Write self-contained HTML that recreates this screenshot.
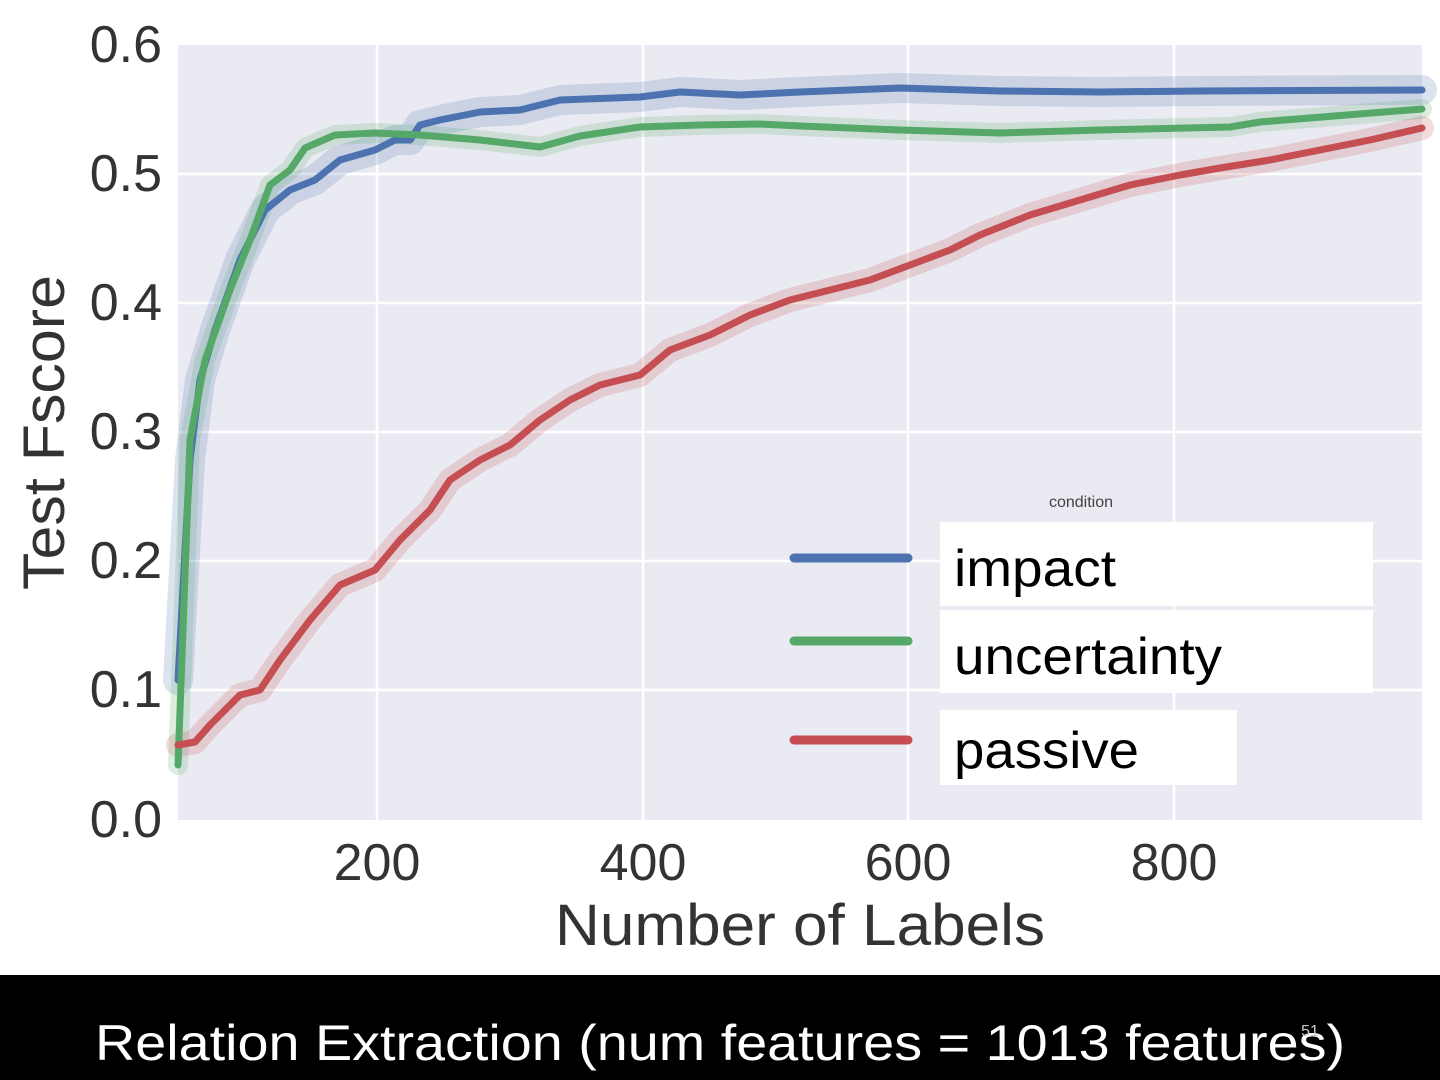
<!DOCTYPE html>
<html><head><meta charset="utf-8"><style>
html,body{margin:0;padding:0;background:#fff;}
body{width:1440px;height:1080px;overflow:hidden;position:relative;font-family:"Liberation Sans",sans-serif;}
</style></head><body>
<svg width="1440" height="1080" xmlns="http://www.w3.org/2000/svg" style="position:absolute;left:0;top:0">
<rect x="178" y="45" width="1244" height="775" fill="#eaeaf2"/>
<g stroke="#fff" stroke-width="2.5">
<line x1="377" y1="45" x2="377" y2="820"/><line x1="643" y1="45" x2="643" y2="820"/>
<line x1="908" y1="45" x2="908" y2="820"/><line x1="1174" y1="45" x2="1174" y2="820"/>
<line x1="178" y1="174" x2="1422" y2="174"/><line x1="178" y1="303" x2="1422" y2="303"/>
<line x1="178" y1="432" x2="1422" y2="432"/><line x1="178" y1="561" x2="1422" y2="561"/>
<line x1="178" y1="690" x2="1422" y2="690"/>
</g>
<g font-size="52" fill="#333" text-anchor="end">
<text x="162" y="62">0.6</text><text x="162" y="191">0.5</text><text x="162" y="320">0.4</text>
<text x="162" y="449">0.3</text><text x="162" y="578">0.2</text><text x="162" y="707">0.1</text><text x="162" y="837">0.0</text>
</g>
<g font-size="52" fill="#333" text-anchor="middle">
<text x="377" y="880">200</text><text x="643" y="880">400</text><text x="908" y="880">600</text><text x="1174" y="880">800</text>
<text x="555" y="945" font-size="58" text-anchor="start" textLength="490" lengthAdjust="spacingAndGlyphs">Number of Labels</text>
<text transform="translate(64,590) rotate(-90)" font-size="58" text-anchor="start" textLength="315" lengthAdjust="spacingAndGlyphs">Test Fscore</text>
</g>
<g fill="none" stroke-linejoin="round" stroke-linecap="round">
<polyline stroke="#4c72b0" stroke-opacity="0.2" stroke-width="30" points="178,680 190,460 200,380 215,330 240,260 265,210 290,190 315,180 340,160 375,150 395,140 410,140 420,125 440,120 480,112 520,110 560,100 640,97 680,92 740,95 800,92 900,88 1000,91 1100,92 1200,91 1422,90"/>
<polyline stroke="#55a868" stroke-opacity="0.2" stroke-width="20" points="178,765 190,440 205,360 230,290 250,240 270,185 290,170 305,148 335,135 375,133 420,135 480,140 540,147 580,136 640,127 700,125 760,124 800,126 900,130 1000,133 1100,130 1230,127 1260,122 1422,109"/>
<polyline stroke="#c44e52" stroke-opacity="0.2" stroke-width="24" points="178,745 195,742 210,725 240,695 260,690 280,660 310,620 340,585 375,570 400,540 430,510 450,480 480,460 510,445 540,420 570,400 600,385 640,375 670,350 710,335 750,315 790,300 830,290 870,280 910,265 950,250 980,235 1030,215 1080,200 1130,185 1180,175 1220,168 1270,160 1320,150 1370,140 1422,128"/>
<polyline stroke="#4c72b0" stroke-width="7" points="178,680 190,460 200,380 215,330 240,260 265,210 290,190 315,180 340,160 375,150 395,140 410,140 420,125 440,120 480,112 520,110 560,100 640,97 680,92 740,95 800,92 900,88 1000,91 1100,92 1200,91 1422,90"/>
<polyline stroke="#55a868" stroke-width="7" points="178,765 190,440 205,360 230,290 250,240 270,185 290,170 305,148 335,135 375,133 420,135 480,140 540,147 580,136 640,127 700,125 760,124 800,126 900,130 1000,133 1100,130 1230,127 1260,122 1422,109"/>
<polyline stroke="#c44e52" stroke-width="7" points="178,745 195,742 210,725 240,695 260,690 280,660 310,620 340,585 375,570 400,540 430,510 450,480 480,460 510,445 540,420 570,400 600,385 640,375 670,350 710,335 750,315 790,300 830,290 870,280 910,265 950,250 980,235 1030,215 1080,200 1130,185 1180,175 1220,168 1270,160 1320,150 1370,140 1422,128"/>
<line x1="794" y1="558" x2="908" y2="558" stroke="#4c72b0" stroke-width="9"/>
<line x1="794" y1="641" x2="908" y2="641" stroke="#55a868" stroke-width="9"/>
<line x1="794" y1="740" x2="908" y2="740" stroke="#c44e52" stroke-width="9"/>
</g>
<text x="1081" y="507" font-size="16" fill="#444" text-anchor="middle">condition</text>
<rect x="940" y="522" width="433" height="84" fill="#fff"/>
<rect x="940" y="610" width="433" height="83" fill="#fff"/>
<rect x="940" y="710" width="297" height="75" fill="#fff"/>
<g font-size="52" fill="#000">
<text x="954" y="586" textLength="162" lengthAdjust="spacingAndGlyphs">impact</text>
<text x="954" y="674" textLength="268" lengthAdjust="spacingAndGlyphs">uncertainty</text>
<text x="954" y="768" textLength="185" lengthAdjust="spacingAndGlyphs">passive</text>
</g>
<rect x="0" y="975" width="1440" height="105" fill="#000"/>
<text x="95" y="1060" font-size="50" fill="#fff" textLength="1250" lengthAdjust="spacingAndGlyphs">Relation Extraction (num features = 1013 features)</text>
<text x="1310" y="1036" font-size="16" fill="#ccc" text-anchor="middle">51</text>
</svg>
</body></html>
